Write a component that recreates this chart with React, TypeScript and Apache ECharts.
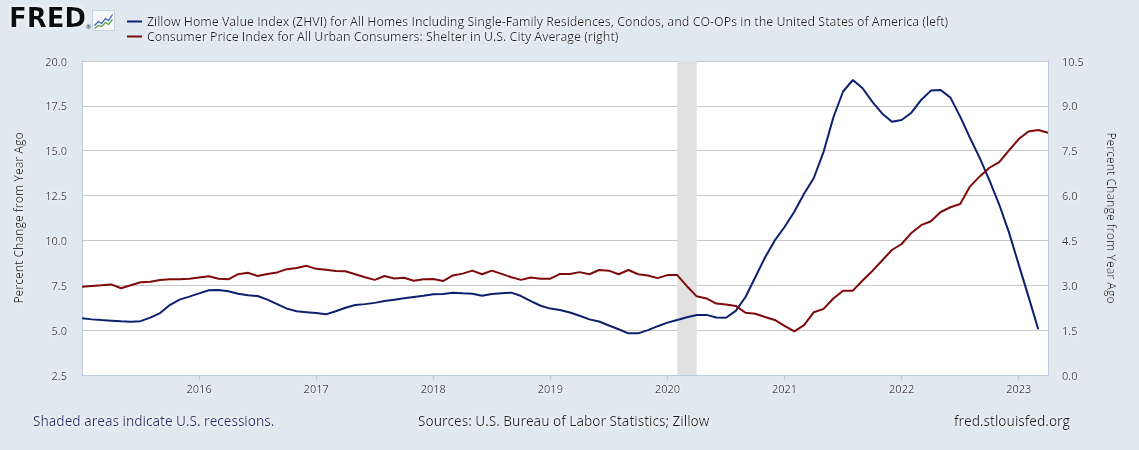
import React, { useEffect, useRef } from "react";
import * as echarts from "echarts";

const startYear = 2015;
// ZHVI YoY % (left axis), monthly from Jan 2015 to Mar 2023
const zhviYoY = [
  5.66, 5.6, 5.56, 5.53, 5.49, 5.47, 5.5, 5.7, 5.95, 6.4,
  6.7, 6.87, 7.05, 7.22, 7.24, 7.17, 7.03, 6.95, 6.9, 6.7,
  6.45, 6.2, 6.05, 6.0, 5.95, 5.88, 6.05, 6.25, 6.4, 6.45,
  6.52, 6.62, 6.7, 6.78, 6.85, 6.92, 7.0, 7.02, 7.08, 7.05,
  7.03, 6.92, 7.02, 7.06, 7.09, 6.9, 6.62, 6.36, 6.2, 6.12,
  5.98, 5.8, 5.6, 5.48, 5.26, 5.05, 4.82, 4.82, 5.0, 5.22,
  5.42, 5.57, 5.72, 5.84, 5.85, 5.7, 5.69, 6.07, 6.85, 7.95,
  9.05, 10.0, 10.75, 11.6, 12.6, 13.48, 14.94, 16.85, 18.3, 18.94,
  18.48, 17.72, 17.08, 16.62, 16.71, 17.12, 17.83, 18.35, 18.38, 17.96,
  16.9, 15.72, 14.6, 13.35, 12.0, 10.45, 8.65, 6.87, 5.05,
];
// CPI Shelter YoY % (right axis), monthly from Jan 2015 to Apr 2023
const shelterYoY = [
  2.95, 2.98, 3.0, 3.03, 2.9, 3.0, 3.1, 3.12, 3.18, 3.2,
  3.2, 3.22, 3.26, 3.3, 3.22, 3.2, 3.37, 3.42, 3.31, 3.38,
  3.43, 3.54, 3.58, 3.65, 3.55, 3.52, 3.48, 3.47, 3.37, 3.27,
  3.18, 3.31, 3.23, 3.25, 3.15, 3.2, 3.21, 3.14, 3.33, 3.39,
  3.49, 3.37, 3.49, 3.38, 3.27, 3.18, 3.26, 3.22, 3.22, 3.38,
  3.38, 3.44, 3.37, 3.51, 3.49, 3.37, 3.51, 3.37, 3.33, 3.24,
  3.34, 3.34, 2.97, 2.63, 2.56, 2.39, 2.36, 2.31, 2.08, 2.05,
  1.94, 1.84, 1.64, 1.46, 1.67, 2.1, 2.21, 2.56, 2.82, 2.82,
  3.16, 3.48, 3.83, 4.18, 4.38, 4.75, 5.01, 5.14, 5.45, 5.61,
  5.72, 6.3, 6.64, 6.93, 7.12, 7.51, 7.89, 8.14, 8.19, 8.1,
];
const recessions = [["2020-02", "2020-04"]];
const yearLabels = [2016, 2017, 2018, 2019, 2020, 2021, 2022, 2023];

const seriesNames = [
  "Zillow Home Value Index (ZHVI) for All Homes Including Single-Family Residences, Condos, and CO-OPs in the United States of America (left)",
  "Consumer Price Index for All Urban Consumers: Shelter in U.S. City Average (right)",
];

const monthToX = (ym: string) => {
  const [y, m] = ym.split("-").map(Number);
  return y + (m - 1) / 12;
};
const idxToX = (i: number) => startYear + i / 12;

const FONT = "'Open Sans', sans-serif";
const halo = { textShadowColor: "#ffffff", textShadowBlur: 3 };

export default function App() {
  const ref = useRef<HTMLDivElement>(null);
  useEffect(() => {
    if (!ref.current) return;
    const chart = echarts.init(ref.current, undefined, { renderer: "svg" });
    const axisBlue = "#bccbe0";
    chart.setOption({
      animation: false,
      backgroundColor: "#e1e9f0",
      textStyle: { fontFamily: FONT },
      grid: {
        left: 82,
        right: 91,
        top: 61,
        bottom: 75,
        show: true,
        backgroundColor: "#ffffff",
        borderWidth: 0,
      },
      legend: {
        orient: "vertical",
        left: 122,
        top: 9,
        itemWidth: 15,
        itemHeight: 2,
        itemGap: 0,
        icon: "rect",
        textStyle: { fontSize: 12.4, color: "#222", lineHeight: 15, fontFamily: FONT, ...halo },
        data: seriesNames,
      },
      xAxis: {
        type: "value",
        min: startYear,
        max: idxToX(shelterYoY.length - 1),
        interval: 1,
        splitLine: { show: false },
        axisLine: { show: true, lineStyle: { color: axisBlue, width: 1 } },
        axisTick: { show: true, length: 5, lineStyle: { color: axisBlue }, customValues: yearLabels },
        axisLabel: {
          customValues: yearLabels,
          formatter: (v: number) => String(Math.round(v)),
          color: "#333",
          fontSize: 11,
          margin: 8,
          ...halo,
        },
      },
      yAxis: [
        {
          type: "value",
          min: 2.5,
          max: 20,
          interval: 2.5,
          name: "Percent Change from Year Ago",
          nameLocation: "middle",
          nameGap: 58,
          nameRotate: 90,
          nameTextStyle: { fontSize: 12, color: "#333", ...halo },
          axisLine: { show: true, lineStyle: { color: axisBlue } },
          axisTick: { show: false },
          splitLine: { show: true, lineStyle: { color: "#c8c8c8" } },
          axisLabel: { formatter: (v: number) => v.toFixed(1), color: "#333", fontSize: 11, margin: 15, ...halo },
        },
        {
          type: "value",
          min: 0,
          max: 10.5,
          interval: 1.5,
          position: "right",
          name: "Percent Change from Year Ago",
          nameLocation: "middle",
          nameGap: 58,
          nameRotate: -90,
          nameTextStyle: { fontSize: 12, color: "#333", ...halo },
          axisLine: { show: true, lineStyle: { color: axisBlue } },
          axisTick: { show: false },
          splitLine: { show: false },
          axisLabel: { formatter: (v: number) => v.toFixed(1), color: "#333", fontSize: 11, margin: 14, ...halo },
        },
      ],
      series: [
        {
          name: seriesNames[0],
          type: "line",
          yAxisIndex: 0,
          showSymbol: false,
          symbol: "none",
          color: "#0b2170",
          lineStyle: { width: 2, color: "#0b2170" },
          data: zhviYoY.map((v, i) => [idxToX(i), v]),
          markArea: {
            silent: true,
            itemStyle: { color: "#e1e1e1" },
            data: recessions.map(([a, b]) => [{ xAxis: monthToX(a) }, { xAxis: monthToX(b) }]),
          },
          z: 3,
        },
        {
          name: seriesNames[1],
          type: "line",
          yAxisIndex: 1,
          showSymbol: false,
          symbol: "none",
          color: "#7f0a0a",
          lineStyle: { width: 2, color: "#7f0a0a" },
          data: shelterYoY.map((v, i) => [idxToX(i), v]),
          z: 3,
        },
      ],
      graphic: [
        {
          type: "text",
          left: 9,
          top: 5,
          style: {
            text: "FRED",
            fontFamily: "'DejaVu Sans', sans-serif",
            fontWeight: 900,
            fontSize: 26,
            fill: "#111",
            textShadowColor: "#fff",
            textShadowBlur: 4,
          },
        },
        {
          type: "text",
          left: 86,
          top: 24,
          style: { text: "®", fontSize: 6, fill: "#111", fontFamily: FONT },
        },
        {
          type: "group",
          left: 92,
          top: 10,
          children: [
            { type: "rect", shape: { x: 0, y: 0, width: 22, height: 20 }, style: { fill: "#f6f8fb", stroke: "#c9d3de", lineWidth: 1 } },
            {
              type: "polyline",
              shape: { points: [[2, 15], [6, 11], [9, 13], [13, 8], [16, 10], [20, 4]] },
              style: { stroke: "#3a66b0", lineWidth: 1.3, fill: "none" },
            },
            {
              type: "polyline",
              shape: { points: [[2, 18], [6, 15], [9, 16], [13, 12], [16, 14], [20, 9]] },
              style: { stroke: "#5aa345", lineWidth: 1.3, fill: "none" },
            },
          ],
        },
        {
          type: "text",
          left: 33,
          top: 413,
          style: { text: "Shaded areas indicate U.S. recessions.", fontSize: 13.6, fill: "#1c2d6e", fontFamily: FONT, ...halo },
        },
        {
          type: "text",
          left: 418,
          top: 413,
          style: { text: "Sources: U.S. Bureau of Labor Statistics; Zillow", fontSize: 13.6, fill: "#222", fontFamily: FONT, ...halo },
        },
        {
          type: "text",
          right: 69,
          top: 413,
          style: { text: "fred.stlouisfed.org", fontSize: 13.6, fill: "#222", fontFamily: FONT, ...halo },
        },
      ],
    });
    return () => chart.dispose();
  }, []);
  return <div ref={ref} style={{ width: 1139, height: 450, position: "absolute", left: 0, top: 0 }} />;
}
